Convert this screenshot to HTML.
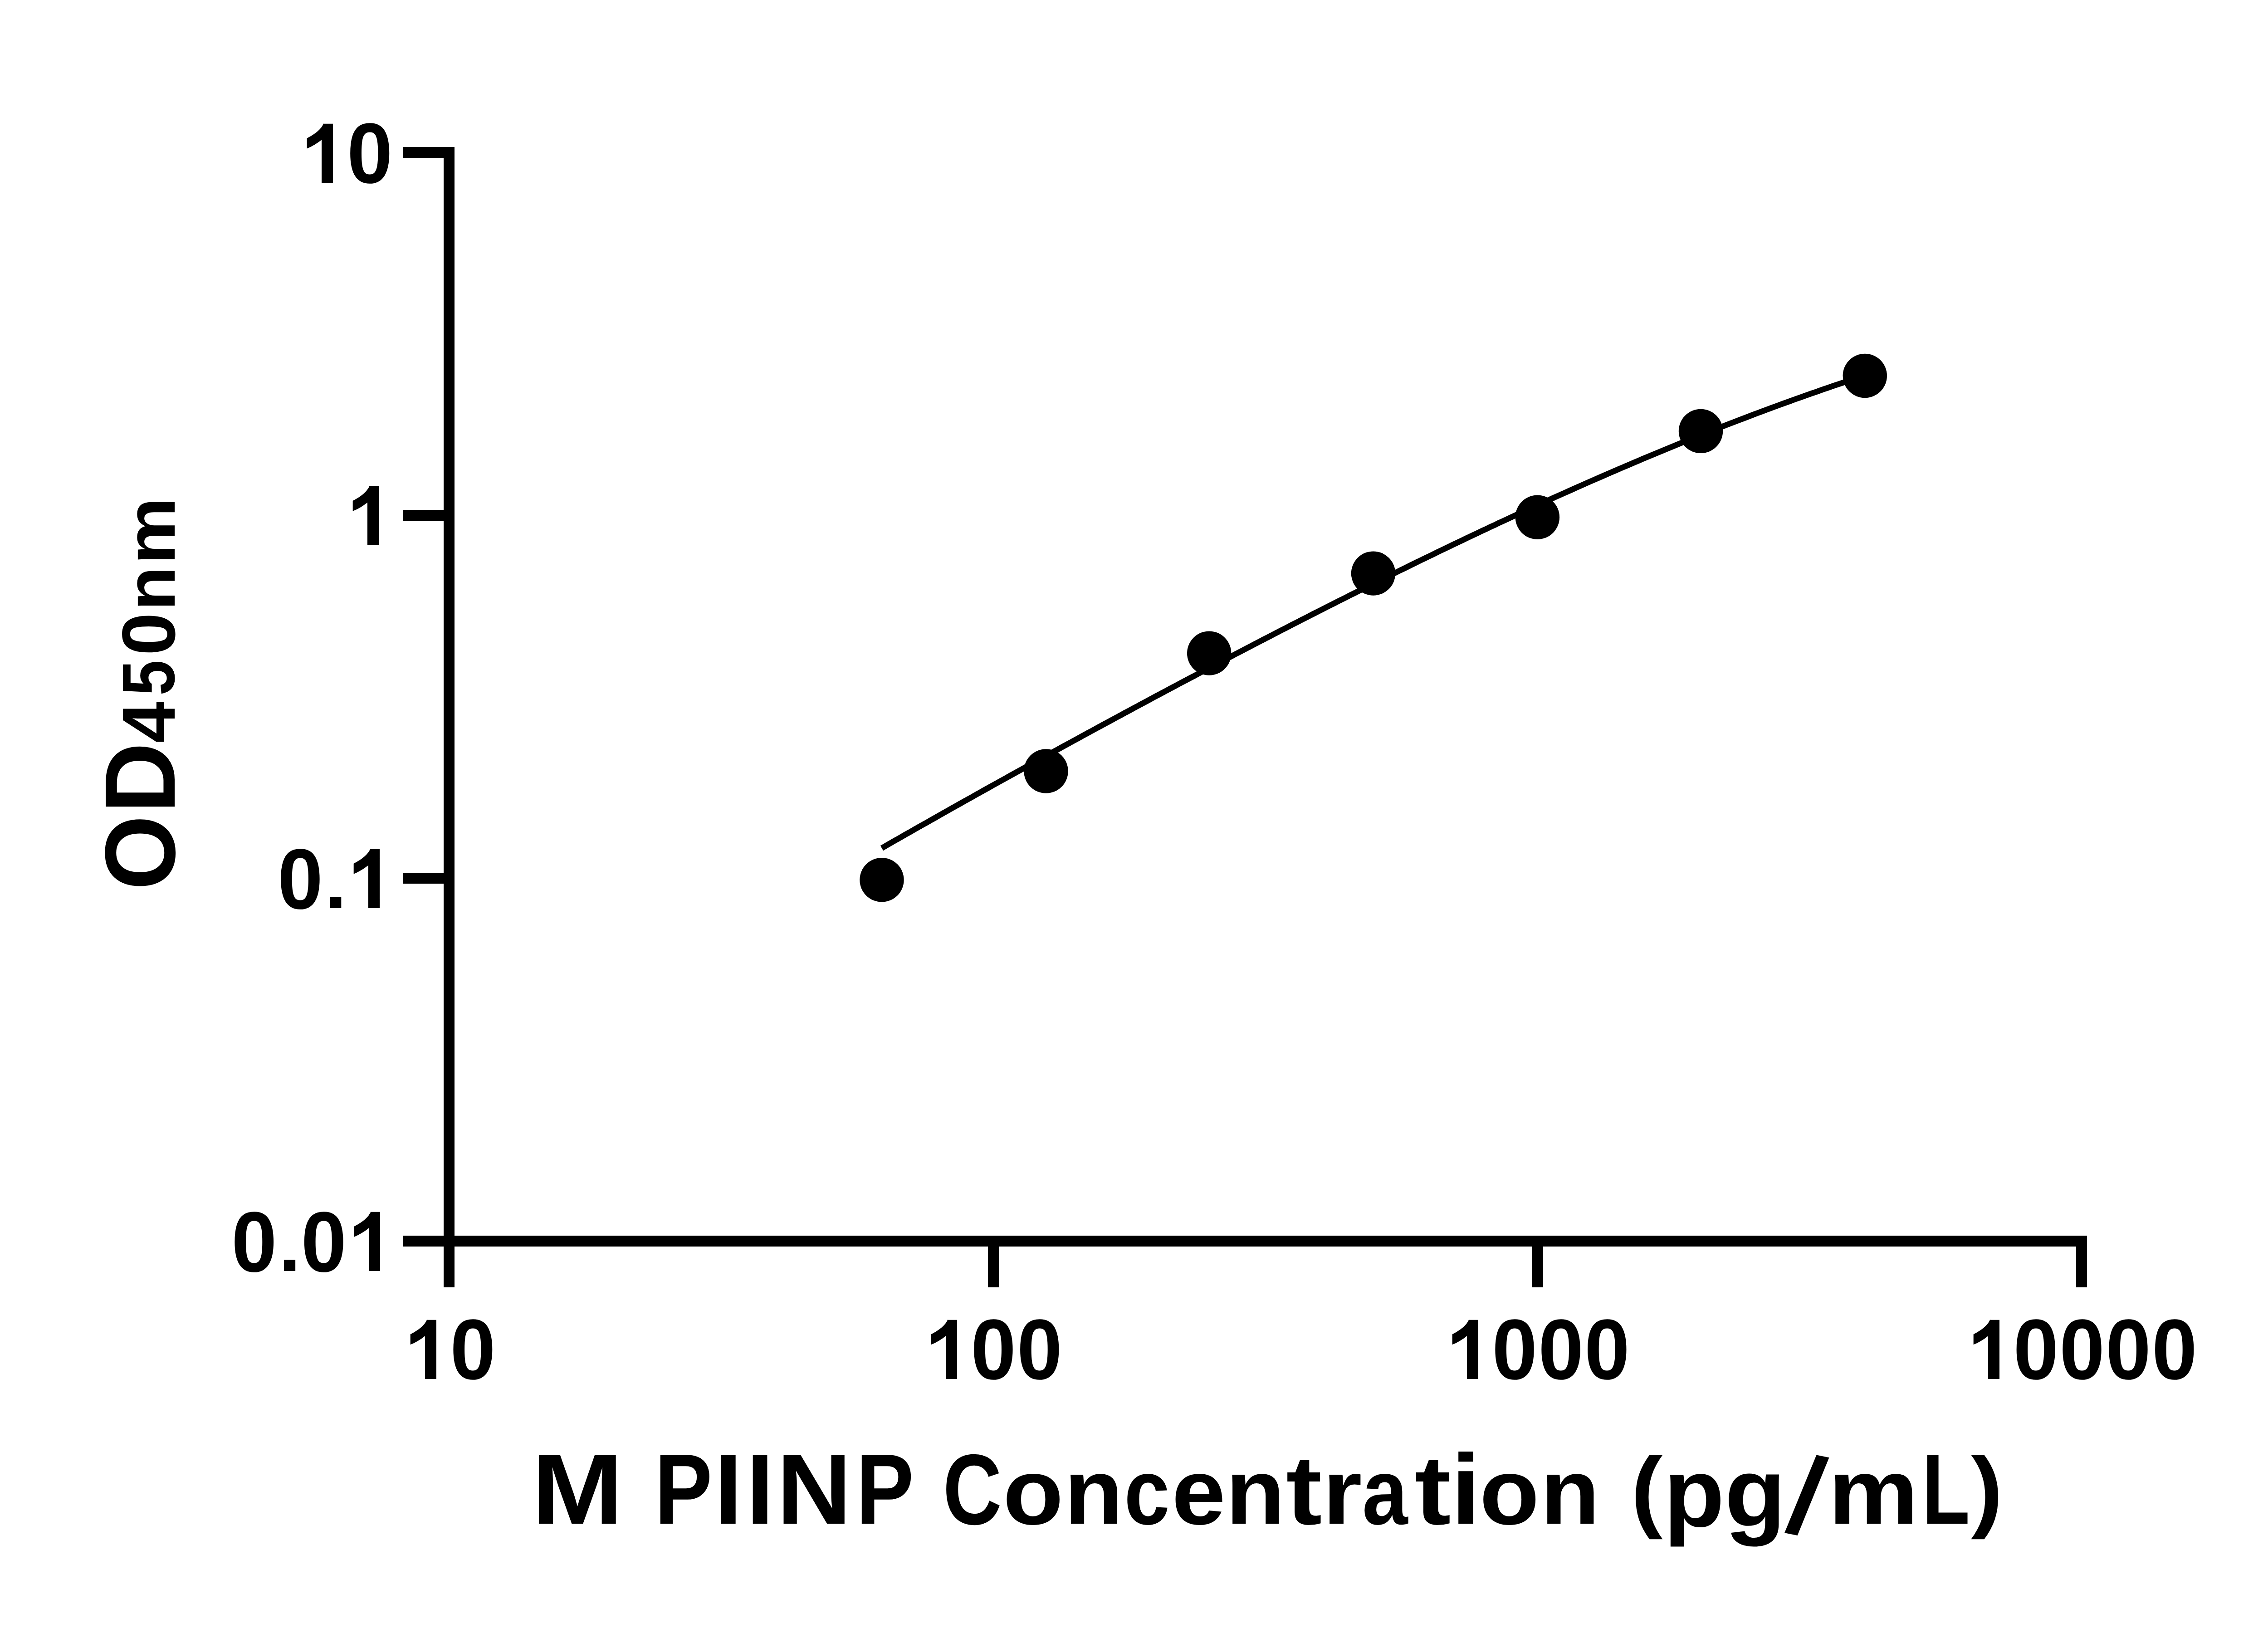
<!DOCTYPE html>
<html><head><meta charset="utf-8"><title>M PIINP standard curve</title>
<style>html,body{margin:0;padding:0;background:#fff;overflow:hidden}svg{display:block}text{font-kerning:none}</style>
</head><body>
<svg width="5142" height="3600" viewBox="0 0 5142 3600">
<rect width="5142" height="3600" fill="#fff"/>
<g fill="#000">
<rect x="978" y="324" width="24" height="2514"/>
<rect x="888" y="324" width="90" height="24"/>
<rect x="888" y="1124" width="90" height="24"/>
<rect x="888" y="1924" width="90" height="24"/>
<rect x="888" y="2724" width="90" height="24"/>
<rect x="978" y="2724" width="3623" height="24"/>
<rect x="2178" y="2748" width="24" height="90"/>
<rect x="3378" y="2748" width="24" height="90"/>
<rect x="4577" y="2748" width="24" height="90"/>
</g>
<text font-family="Liberation Sans" font-weight="bold" text-rendering="geometricPrecision"><tspan x="666.5" y="402.9" font-size="189.5" textLength="101.3" lengthAdjust="spacingAndGlyphs">1</tspan><tspan x="764.9" y="403.4" font-size="188.7" textLength="100.6" lengthAdjust="spacingAndGlyphs">0</tspan></text>
<g fill="#fff"><rect x="675.37" y="380.69" width="33.63" height="24.25"/><rect x="734.00" y="380.69" width="31.23" height="24.25"/><rect x="675.37" y="268.50" width="33.63" height="49.35"/><polygon points="709.00,268.50 714.50,268.50 713.50,272.50 713.15,273.28 712.77,274.06 712.37,274.84 711.94,275.61 711.50,276.39 711.03,277.15 710.54,277.92 710.04,278.68 709.50,279.45 708.95,280.20"/></g>
<g fill="#000"><path d="M713.50,272.50Q705.80,289.91 676.68,304.72L676.68,327.54Q693.52,320.72 709.00,308.33L721.46,308.33L721.46,278.50Z"/></g>
<text font-family="Liberation Sans" font-weight="bold" text-rendering="geometricPrecision"><tspan x="767.5" y="1202.2" font-size="189.5" textLength="101.3" lengthAdjust="spacingAndGlyphs">1</tspan></text>
<g fill="#fff"><rect x="776.37" y="1179.99" width="33.63" height="24.25"/><rect x="835.00" y="1179.99" width="31.23" height="24.25"/><rect x="776.37" y="1067.80" width="33.63" height="49.35"/><polygon points="810.00,1067.80 815.50,1067.80 814.50,1071.80 814.15,1072.58 813.77,1073.36 813.37,1074.14 812.94,1074.91 812.50,1075.69 812.03,1076.45 811.54,1077.22 811.04,1077.98 810.50,1078.75 809.95,1079.50"/></g>
<g fill="#000"><path d="M814.50,1071.80Q806.80,1089.21 777.68,1104.02L777.68,1126.84Q794.52,1120.02 810.00,1107.63L822.46,1107.63L822.46,1077.80Z"/></g>
<text font-family="Liberation Sans" font-weight="bold" text-rendering="geometricPrecision"><tspan x="611.9" y="2002.5" font-size="188.7" textLength="100.0" lengthAdjust="spacingAndGlyphs">0</tspan><tspan x="715.1" y="2002.0" font-size="166.5" textLength="49.6" lengthAdjust="spacingAndGlyphs">.</tspan><tspan x="769.5" y="2002.0" font-size="189.5" textLength="101.3" lengthAdjust="spacingAndGlyphs">1</tspan></text>
<g fill="#fff"><rect x="778.37" y="1979.79" width="33.63" height="24.25"/><rect x="837.00" y="1979.79" width="31.23" height="24.25"/><rect x="778.37" y="1867.60" width="33.63" height="49.35"/><polygon points="812.00,1867.60 817.50,1867.60 816.50,1871.60 816.15,1872.38 815.77,1873.16 815.37,1873.94 814.94,1874.71 814.50,1875.49 814.03,1876.25 813.54,1877.02 813.04,1877.78 812.50,1878.55 811.95,1879.30"/></g>
<g fill="#000"><path d="M816.50,1871.60Q808.80,1889.01 779.68,1903.82L779.68,1926.64Q796.52,1919.82 812.00,1907.43L824.46,1907.43L824.46,1877.60Z"/></g>
<text font-family="Liberation Sans" font-weight="bold" text-rendering="geometricPrecision"><tspan x="510.3" y="2802.5" font-size="188.7" textLength="100.2" lengthAdjust="spacingAndGlyphs">0</tspan><tspan x="613.7" y="2802.0" font-size="166.5" textLength="49.7" lengthAdjust="spacingAndGlyphs">.</tspan><tspan x="663.8" y="2802.5" font-size="188.7" textLength="100.2" lengthAdjust="spacingAndGlyphs">0</tspan><tspan x="770.5" y="2802.0" font-size="189.5" textLength="101.3" lengthAdjust="spacingAndGlyphs">1</tspan></text>
<g fill="#fff"><rect x="779.37" y="2779.79" width="33.63" height="24.25"/><rect x="838.00" y="2779.79" width="31.23" height="24.25"/><rect x="779.37" y="2667.60" width="33.63" height="49.35"/><polygon points="813.00,2667.60 818.50,2667.60 817.50,2671.60 817.15,2672.38 816.77,2673.16 816.37,2673.94 815.94,2674.71 815.50,2675.49 815.03,2676.25 814.54,2677.02 814.04,2677.78 813.50,2678.55 812.95,2679.30"/></g>
<g fill="#000"><path d="M817.50,2671.60Q809.80,2689.01 780.68,2703.82L780.68,2726.64Q797.52,2719.82 813.00,2707.43L825.46,2707.43L825.46,2677.60Z"/></g>
<text font-family="Liberation Sans" font-weight="bold" text-rendering="geometricPrecision"><tspan x="894.5" y="3039.7" font-size="189.5" textLength="101.3" lengthAdjust="spacingAndGlyphs">1</tspan><tspan x="992.2" y="3040.2" font-size="188.7" textLength="100.4" lengthAdjust="spacingAndGlyphs">0</tspan></text>
<g fill="#fff"><rect x="903.37" y="3017.49" width="33.63" height="24.25"/><rect x="962.00" y="3017.49" width="31.23" height="24.25"/><rect x="903.37" y="2905.30" width="33.63" height="49.35"/><polygon points="937.00,2905.30 942.50,2905.30 941.50,2909.30 941.15,2910.08 940.77,2910.86 940.37,2911.64 939.94,2912.41 939.50,2913.19 939.03,2913.95 938.54,2914.72 938.04,2915.48 937.50,2916.25 936.95,2917.00"/></g>
<g fill="#000"><path d="M941.50,2909.30Q933.80,2926.71 904.68,2941.52L904.68,2964.34Q921.52,2957.52 937.00,2945.13L949.46,2945.13L949.46,2915.30Z"/></g>
<text font-family="Liberation Sans" font-weight="bold" text-rendering="geometricPrecision"><tspan x="2042.5" y="3039.7" font-size="189.5" textLength="101.3" lengthAdjust="spacingAndGlyphs">1</tspan><tspan x="2140.3" y="3040.2" font-size="188.7" textLength="99.7" lengthAdjust="spacingAndGlyphs">0</tspan><tspan x="2242.1" y="3040.2" font-size="188.7" textLength="99.7" lengthAdjust="spacingAndGlyphs">0</tspan></text>
<g fill="#fff"><rect x="2051.37" y="3017.49" width="33.63" height="24.25"/><rect x="2110.00" y="3017.49" width="31.23" height="24.25"/><rect x="2051.37" y="2905.30" width="33.63" height="49.35"/><polygon points="2085.00,2905.30 2090.50,2905.30 2089.50,2909.30 2089.15,2910.08 2088.77,2910.86 2088.37,2911.64 2087.94,2912.41 2087.50,2913.19 2087.03,2913.95 2086.54,2914.72 2086.04,2915.48 2085.50,2916.25 2084.95,2917.00"/></g>
<g fill="#000"><path d="M2089.50,2909.30Q2081.80,2926.71 2052.68,2941.52L2052.68,2964.34Q2069.52,2957.52 2085.00,2945.13L2097.46,2945.13L2097.46,2915.30Z"/></g>
<text font-family="Liberation Sans" font-weight="bold" text-rendering="geometricPrecision"><tspan x="3191.5" y="3039.7" font-size="189.5" textLength="101.3" lengthAdjust="spacingAndGlyphs">1</tspan><tspan x="3289.2" y="3040.2" font-size="188.7" textLength="99.8" lengthAdjust="spacingAndGlyphs">0</tspan><tspan x="3391.2" y="3040.2" font-size="188.7" textLength="99.8" lengthAdjust="spacingAndGlyphs">0</tspan><tspan x="3493.1" y="3040.2" font-size="188.7" textLength="99.8" lengthAdjust="spacingAndGlyphs">0</tspan></text>
<g fill="#fff"><rect x="3200.37" y="3017.49" width="33.63" height="24.25"/><rect x="3259.00" y="3017.49" width="31.23" height="24.25"/><rect x="3200.37" y="2905.30" width="33.63" height="49.35"/><polygon points="3234.00,2905.30 3239.50,2905.30 3238.50,2909.30 3238.15,2910.08 3237.77,2910.86 3237.37,2911.64 3236.94,2912.41 3236.50,2913.19 3236.03,2913.95 3235.54,2914.72 3235.04,2915.48 3234.50,2916.25 3233.95,2917.00"/></g>
<g fill="#000"><path d="M3238.50,2909.30Q3230.80,2926.71 3201.68,2941.52L3201.68,2964.34Q3218.52,2957.52 3234.00,2945.13L3246.46,2945.13L3246.46,2915.30Z"/></g>
<text font-family="Liberation Sans" font-weight="bold" text-rendering="geometricPrecision"><tspan x="4340.5" y="3039.7" font-size="189.5" textLength="101.3" lengthAdjust="spacingAndGlyphs">1</tspan><tspan x="4438.4" y="3040.2" font-size="188.7" textLength="99.7" lengthAdjust="spacingAndGlyphs">0</tspan><tspan x="4540.3" y="3040.2" font-size="188.7" textLength="99.7" lengthAdjust="spacingAndGlyphs">0</tspan><tspan x="4642.2" y="3040.2" font-size="188.7" textLength="99.7" lengthAdjust="spacingAndGlyphs">0</tspan><tspan x="4744.1" y="3040.2" font-size="188.7" textLength="99.7" lengthAdjust="spacingAndGlyphs">0</tspan></text>
<g fill="#fff"><rect x="4349.37" y="3017.49" width="33.63" height="24.25"/><rect x="4408.00" y="3017.49" width="31.23" height="24.25"/><rect x="4349.37" y="2905.30" width="33.63" height="49.35"/><polygon points="4383.00,2905.30 4388.50,2905.30 4387.50,2909.30 4387.15,2910.08 4386.77,2910.86 4386.37,2911.64 4385.94,2912.41 4385.50,2913.19 4385.03,2913.95 4384.54,2914.72 4384.04,2915.48 4383.50,2916.25 4382.95,2917.00"/></g>
<g fill="#000"><path d="M4387.50,2909.30Q4379.80,2926.71 4350.68,2941.52L4350.68,2964.34Q4367.52,2957.52 4383.00,2945.13L4395.46,2945.13L4395.46,2915.30Z"/></g>
<text font-family="Liberation Sans" font-weight="bold" text-rendering="geometricPrecision"><tspan x="1171.7" y="3359.4" font-size="220.2" textLength="202.3" lengthAdjust="spacingAndGlyphs">M</tspan> <tspan x="1442.9" y="3359.4" font-size="220.2" textLength="127.4" lengthAdjust="spacingAndGlyphs">P</tspan><tspan x="1574.2" y="3359.4" font-size="220.2" textLength="62.5" lengthAdjust="spacingAndGlyphs">I</tspan><tspan x="1644.9" y="3359.4" font-size="220.2" textLength="61.1" lengthAdjust="spacingAndGlyphs">I</tspan><tspan x="1712.2" y="3359.4" font-size="220.2" textLength="164.9" lengthAdjust="spacingAndGlyphs">N</tspan><tspan x="1886.9" y="3359.4" font-size="220.2" textLength="127.6" lengthAdjust="spacingAndGlyphs">P</tspan> <tspan x="2078.7" y="3359.9" font-size="220.9" textLength="129.9" lengthAdjust="spacingAndGlyphs">C</tspan><tspan x="2210.9" y="3360.0" font-size="206.1" textLength="133.4" lengthAdjust="spacingAndGlyphs">o</tspan><tspan x="2346.0" y="3359.4" font-size="204.4" textLength="130.2" lengthAdjust="spacingAndGlyphs">n</tspan><tspan x="2478.2" y="3360.0" font-size="206.1" textLength="100.6" lengthAdjust="spacingAndGlyphs">c</tspan><tspan x="2583.2" y="3360.0" font-size="206.1" textLength="118.5" lengthAdjust="spacingAndGlyphs">e</tspan><tspan x="2702.2" y="3359.4" font-size="204.4" textLength="130.3" lengthAdjust="spacingAndGlyphs">n</tspan><tspan x="2835.3" y="3360.0" font-size="216.0" textLength="79.2" lengthAdjust="spacingAndGlyphs">t</tspan><tspan x="2915.4" y="3359.4" font-size="204.4" textLength="87.2" lengthAdjust="spacingAndGlyphs">r</tspan><tspan x="3002.9" y="3360.0" font-size="206.1" textLength="100.5" lengthAdjust="spacingAndGlyphs">a</tspan><tspan x="3118.9" y="3360.0" font-size="216.0" textLength="79.6" lengthAdjust="spacingAndGlyphs">t</tspan><tspan x="3198.8" y="3359.4" font-size="219.3" textLength="65.4" lengthAdjust="spacingAndGlyphs">i</tspan><tspan x="3261.7" y="3360.0" font-size="206.1" textLength="131.8" lengthAdjust="spacingAndGlyphs">o</tspan><tspan x="3396.2" y="3359.4" font-size="204.4" textLength="130.4" lengthAdjust="spacingAndGlyphs">n</tspan> <tspan x="3595.4" y="3352.4" font-size="199.3" textLength="70.1" lengthAdjust="spacingAndGlyphs">(</tspan><tspan x="3667.4" y="3364.6" font-size="214.6" textLength="134.3" lengthAdjust="spacingAndGlyphs">p</tspan><tspan x="3802.3" y="3364.4" font-size="214.7" textLength="134.5" lengthAdjust="spacingAndGlyphs">g</tspan><tspan x="3932.8" y="3374.1" font-size="245.0" rotate="11.5">/</tspan><tspan x="4030.8" y="3359.4" font-size="204.4" textLength="198.5" lengthAdjust="spacingAndGlyphs">m</tspan><tspan x="4237.0" y="3359.4" font-size="220.2" textLength="105.9" lengthAdjust="spacingAndGlyphs">L</tspan><tspan x="4345.3" y="3352.4" font-size="199.3" textLength="70.4" lengthAdjust="spacingAndGlyphs">)</tspan></text>
<text transform="rotate(-90)" font-family="Liberation Sans" font-weight="bold" text-rendering="geometricPrecision"><tspan x="-1962.3" y="384.5" font-size="220.1" textLength="164.8" lengthAdjust="spacingAndGlyphs">O</tspan><tspan x="-1792.8" y="384.7" font-size="220.6" textLength="156.0" lengthAdjust="spacingAndGlyphs">D</tspan><tspan x="-1637.9" y="384.9" font-size="165.7" textLength="91.6" lengthAdjust="spacingAndGlyphs">4</tspan><tspan x="-1533.5" y="383.9" font-size="164.2" textLength="78.4" lengthAdjust="spacingAndGlyphs">5</tspan><tspan x="-1444.9" y="384.9" font-size="166.1" textLength="94.4" lengthAdjust="spacingAndGlyphs">0</tspan><tspan x="-1346.0" y="384.5" font-size="153.6" textLength="97.0" lengthAdjust="spacingAndGlyphs">n</tspan><tspan x="-1244.5" y="384.5" font-size="153.6" textLength="148.2" lengthAdjust="spacingAndGlyphs">m</tspan></text>
<polyline points="1944.0,1869.7 1953.1,1864.5 1962.1,1859.3 1971.2,1854.1 1980.3,1849.0 1989.3,1843.8 1998.4,1838.6 2007.5,1833.5 2016.5,1828.3 2025.6,1823.1 2034.7,1818.0 2043.7,1812.9 2052.8,1807.7 2061.9,1802.6 2070.9,1797.5 2080.0,1792.3 2089.1,1787.2 2098.1,1782.1 2107.2,1777.0 2116.3,1771.9 2125.3,1766.8 2134.4,1761.7 2143.5,1756.7 2152.5,1751.6 2161.6,1746.5 2170.7,1741.4 2179.7,1736.4 2188.8,1731.3 2197.9,1726.3 2206.9,1721.2 2216.0,1716.2 2225.1,1711.1 2234.1,1706.1 2243.2,1701.1 2252.3,1696.1 2261.3,1691.0 2270.4,1686.0 2279.5,1681.0 2288.5,1676.0 2297.6,1671.0 2306.7,1666.0 2315.7,1661.1 2324.8,1656.1 2333.9,1651.1 2342.9,1646.1 2352.0,1641.2 2361.1,1636.2 2370.1,1631.2 2379.2,1626.3 2388.3,1621.3 2397.3,1616.4 2406.4,1611.5 2415.5,1606.5 2424.5,1601.6 2433.6,1596.7 2442.7,1591.8 2451.7,1586.9 2460.8,1582.0 2469.9,1577.1 2478.9,1572.2 2488.0,1567.3 2497.1,1562.4 2506.2,1557.5 2515.2,1552.6 2524.3,1547.8 2533.4,1542.9 2542.4,1538.0 2551.5,1533.2 2560.6,1528.3 2569.6,1523.5 2578.7,1518.7 2587.8,1513.8 2596.8,1509.0 2605.9,1504.2 2615.0,1499.4 2624.0,1494.6 2633.1,1489.8 2642.2,1485.0 2651.2,1480.2 2660.3,1475.4 2669.4,1470.6 2678.4,1465.8 2687.5,1461.1 2696.6,1456.3 2705.6,1451.5 2714.7,1446.8 2723.8,1442.0 2732.8,1437.3 2741.9,1432.6 2751.0,1427.8 2760.0,1423.1 2769.1,1418.4 2778.2,1413.7 2787.2,1409.0 2796.3,1404.3 2805.4,1399.6 2814.4,1394.9 2823.5,1390.2 2832.6,1385.6 2841.6,1380.9 2850.7,1376.2 2859.8,1371.6 2868.8,1366.9 2877.9,1362.3 2887.0,1357.7 2896.0,1353.0 2905.1,1348.4 2914.2,1343.8 2923.2,1339.2 2932.3,1334.6 2941.4,1330.0 2950.4,1325.4 2959.5,1320.9 2968.6,1316.3 2977.6,1311.7 2986.7,1307.2 2995.8,1302.6 3004.8,1298.1 3013.9,1293.6 3023.0,1289.0 3032.0,1284.5 3041.1,1280.0 3050.2,1275.5 3059.2,1271.0 3068.3,1266.6 3077.4,1262.1 3086.4,1257.6 3095.5,1253.2 3104.6,1248.7 3113.6,1244.3 3122.7,1239.8 3131.8,1235.4 3140.8,1231.0 3149.9,1226.6 3159.0,1222.2 3168.0,1217.8 3177.1,1213.4 3186.2,1209.1 3195.2,1204.7 3204.3,1200.3 3213.4,1196.0 3222.4,1191.7 3231.5,1187.3 3240.6,1183.0 3249.6,1178.7 3258.7,1174.4 3267.8,1170.1 3276.8,1165.9 3285.9,1161.6 3295.0,1157.4 3304.0,1153.1 3313.1,1148.9 3322.2,1144.7 3331.2,1140.4 3340.3,1136.2 3349.4,1132.0 3358.4,1127.9 3367.5,1123.7 3376.6,1119.5 3385.6,1115.4 3394.7,1111.3 3403.8,1107.1 3412.8,1103.0 3421.9,1098.9 3431.0,1094.8 3440.0,1090.7 3449.1,1086.7 3458.2,1082.6 3467.2,1078.6 3476.3,1074.5 3485.4,1070.5 3494.4,1066.5 3503.5,1062.5 3512.6,1058.5 3521.6,1054.6 3530.7,1050.6 3539.8,1046.7 3548.8,1042.7 3557.9,1038.8 3567.0,1034.9 3576.1,1031.0 3585.1,1027.1 3594.2,1023.3 3603.3,1019.4 3612.3,1015.6 3621.4,1011.7 3630.5,1007.9 3639.5,1004.1 3648.6,1000.3 3657.7,996.6 3666.7,992.8 3675.8,989.1 3684.9,985.3 3693.9,981.6 3703.0,977.9 3712.1,974.2 3721.1,970.5 3730.2,966.9 3739.3,963.2 3748.3,959.6 3757.4,956.0 3766.5,952.4 3775.5,948.8 3784.6,945.3 3793.7,941.7 3802.7,938.2 3811.8,934.6 3820.9,931.1 3829.9,927.6 3839.0,924.2 3848.1,920.7 3857.1,917.3 3866.2,913.8 3875.3,910.4 3884.3,907.0 3893.4,903.6 3902.5,900.3 3911.5,896.9 3920.6,893.6 3929.7,890.3 3938.7,887.0 3947.8,883.7 3956.9,880.4 3965.9,877.2 3975.0,874.0 3984.1,870.8 3993.1,867.6 4002.2,864.4 4011.3,861.2 4020.3,858.1 4029.4,854.9 4038.5,851.8 4047.5,848.7 4056.6,845.7 4065.7,842.6 4074.7,839.6 4083.8,836.5 4092.9,833.5 4101.9,830.5 4111.0,827.6" fill="none" stroke="#000" stroke-width="12.7" stroke-linejoin="round"/>
<g fill="#000">
<circle cx="1944.0" cy="1939.8" r="48.7"/>
<circle cx="2306.0" cy="1700.0" r="48.7"/>
<circle cx="2665.7" cy="1440.1" r="48.7"/>
<circle cx="3027.5" cy="1264.1" r="48.7"/>
<circle cx="3389.4" cy="1140.2" r="48.7"/>
<circle cx="3749.5" cy="950.4" r="48.7"/>
<circle cx="4111.3" cy="828.4" r="48.7"/>
</g>
</svg>
</body></html>
